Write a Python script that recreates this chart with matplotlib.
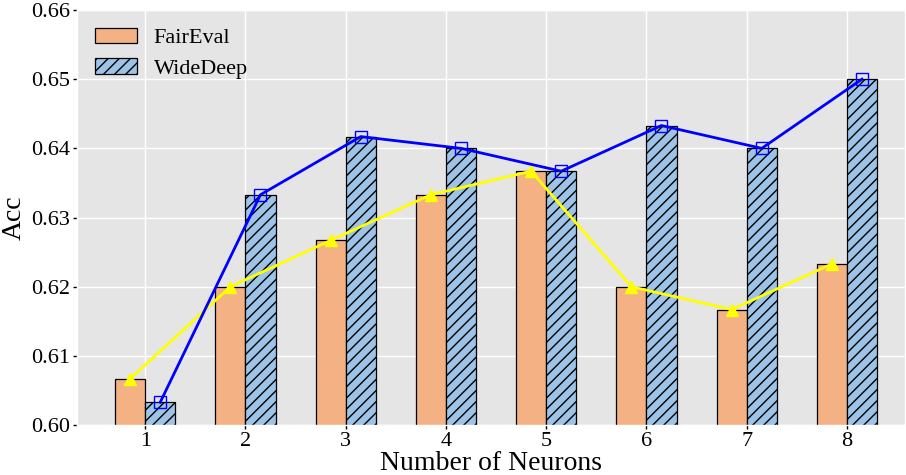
import numpy as np
import matplotlib.pyplot as plt

plt.style.use('ggplot')
plt.rcParams['font.family'] = ['Liberation Serif', 'DejaVu Serif']
plt.rcParams['hatch.linewidth'] = 1.0

# data
neurons = [1, 2, 3, 4, 5, 6, 7, 8]
fair_eval = [0.6067, 0.6200, 0.6267, 0.6333, 0.6367, 0.6200, 0.6167, 0.6233]
wide_deep = [0.6033, 0.6333, 0.6417, 0.6400, 0.6367, 0.6433, 0.6400, 0.6500]

x = np.array(neurons)
w = 0.3

fig = plt.figure(figsize=(9.06, 4.75), dpi=100)
ax = fig.add_axes([0.085, 0.105, 0.914, 0.874])
ax.set_facecolor('#E5E5E5')
ax.grid(True, color='white', linewidth=1.0)
ax.set_axisbelow(True)

ax.bar(x - w/2, fair_eval, w, color='#F4B183', edgecolor='black', linewidth=0.9, label='FairEval')
ax.bar(x + w/2, wide_deep, w, color='#9DC3E6', edgecolor='black', linewidth=0.9, hatch='///', label='WideDeep')

ax.plot(x - w/2, fair_eval, color='yellow', linewidth=2, marker='^', markersize=8, zorder=4)
ax.plot(x + w/2, wide_deep, color='blue', linewidth=2, marker='s', markersize=8,
        markerfacecolor='none', markeredgewidth=1.0, zorder=4)

ax.set_xlim(0.32, 8.58)
ax.set_ylim(0.60, 0.66)
ax.set_xticks(x)
ax.set_yticks([0.60, 0.61, 0.62, 0.63, 0.64, 0.65, 0.66])
ax.set_yticklabels(['0.60', '0.61', '0.62', '0.63', '0.64', '0.65', '0.66'])
ax.tick_params(axis='both', labelsize=16, colors='black', length=3, width=1, pad=2)
ax.set_xlabel('Number of Neurons', fontsize=20, color='black', labelpad=0)
ax.set_ylabel('Acc', fontsize=20, color='black')
ax.yaxis.set_label_coords(-0.061, 0.5)

ax.legend(loc='upper left', frameon=False, fontsize=16, handlelength=1.9, handleheight=0.7,
          handletextpad=0.75, borderaxespad=0.4, labelspacing=0.45)

fig.savefig('out.png', dpi=100)
